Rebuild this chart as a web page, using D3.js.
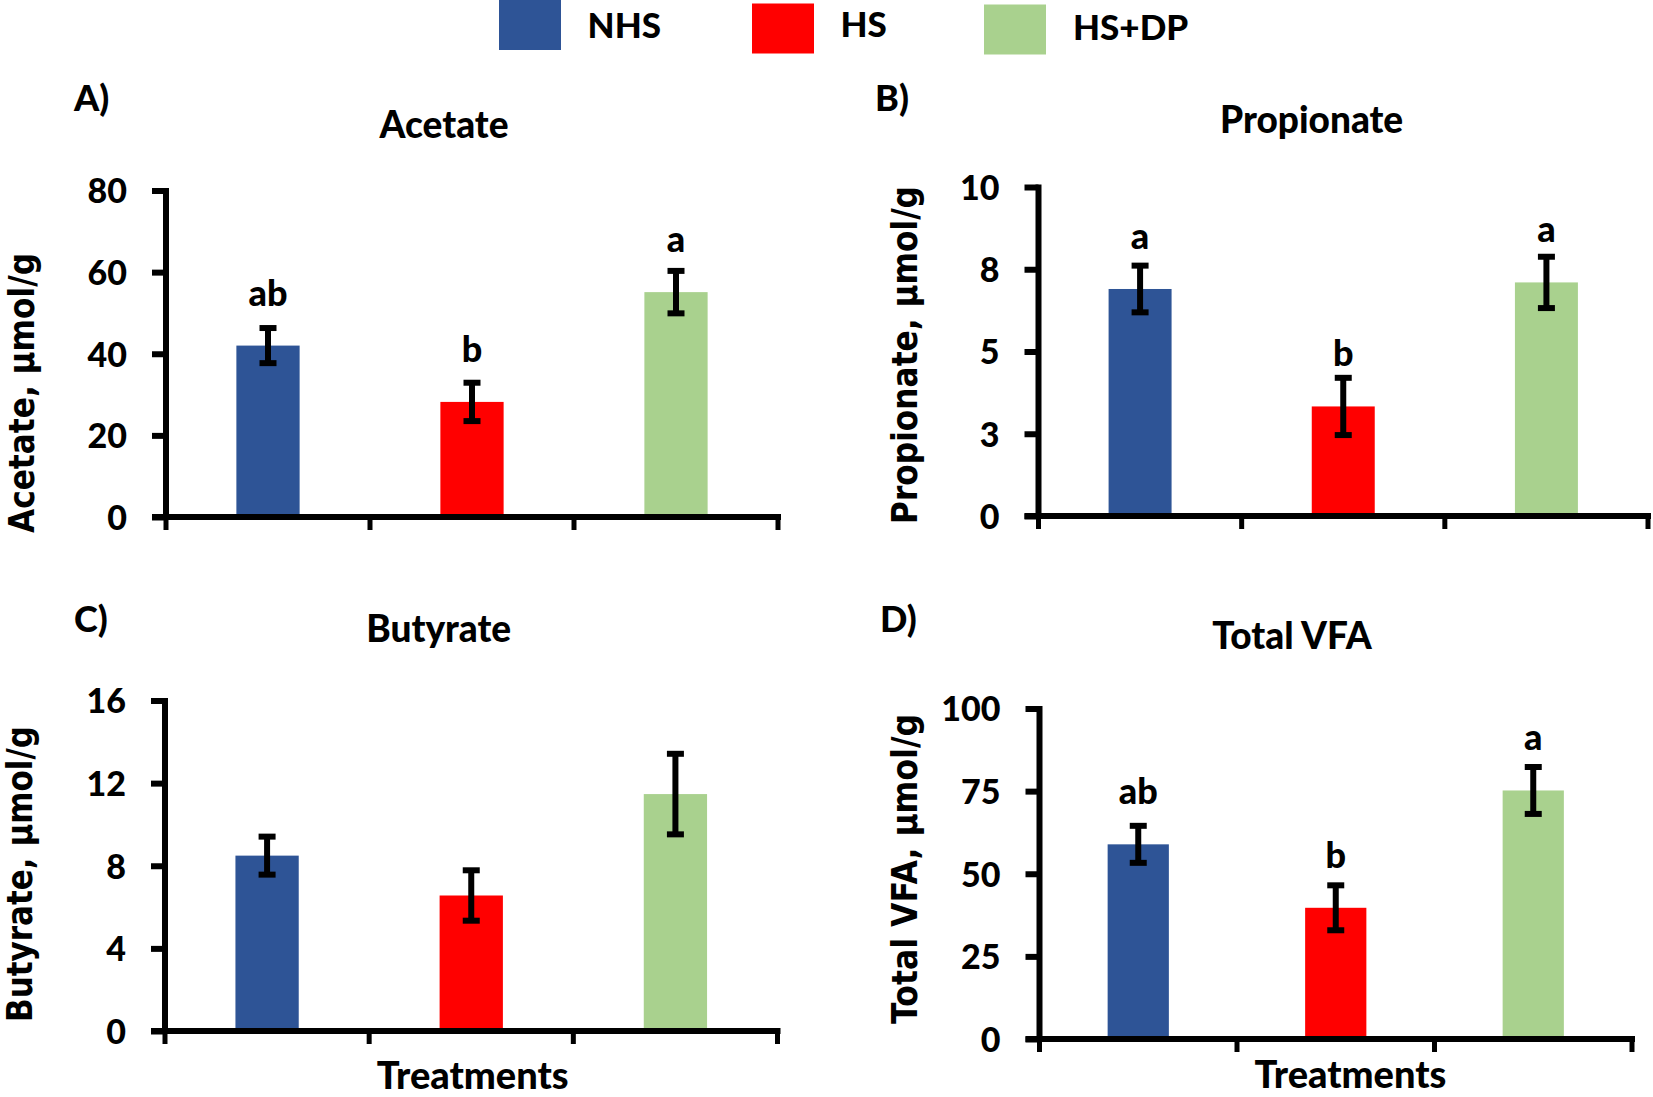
<!DOCTYPE html>
<html>
<head>
<meta charset="utf-8">
<script src="https://cdn.jsdelivr.net/npm/d3@7"></script>
<style>
  html, body { margin: 0; padding: 0; background: #fff; }
  svg { display: block; }
  .lato { font-family: Lato, "Open Sans", sans-serif; font-weight: 900; }
  .dv { font-family: "DejaVu Sans", Verdana, sans-serif; font-weight: 700; }
</style>
</head>
<body>
<svg id="chart" width="1653" height="1097"></svg>
<script>
// ---------- DATA ----------
const categories = ["NHS", "HS", "HS+DP"];
const colors = ["#2E5496", "#FF0000", "#A9D18E"];

const acetateMean = [42.0, 28.2, 55.1];
const acetateSE = [4.3, 4.7, 5.2];
const acetateLetters = ["ab", "b", "a"];
const acetateTicks = [0, 20, 40, 60, 80];
const acetateTickLabels = ["0", "20", "40", "60", "80"];

const propionateMean = [6.9, 3.33, 7.1];
const propionateSE = [0.71, 0.87, 0.78];
const propionateLetters = ["a", "b", "a"];
const propionateTicks = [0, 2.5, 5, 7.5, 10];
const propionateTickLabels = ["0", "3", "5", "8", "10"];

const butyrateMean = [8.49, 6.56, 11.47];
const butyrateSE = [0.92, 1.22, 1.95];
const butyrateLetters = ["", "", ""];
const butyrateTicks = [0, 4, 8, 12, 16];
const butyrateTickLabels = ["0", "4", "8", "12", "16"];

const totalMean = [58.9, 39.7, 75.2];
const totalSE = [5.6, 6.8, 7.1];
const totalLetters = ["ab", "b", "a"];
const totalTicks = [0, 25, 50, 75, 100];
const totalTickLabels = ["0", "25", "50", "75", "100"];

// ---------- LAYOUT ----------
const panels = [
  { tag: "A)", title: "Acetate", ylab: "Acetate, \u00b5mol/g", mean: acetateMean, se: acetateSE,
    letters: acetateLetters, ticks: acetateTicks, tickLabels: acetateTickLabels,
    x0: 166, x1: 778, yTop: 190.5, yBot: 517,
    tagX: 74, tagY: 111, titleX: 444, titleY: 137.5,
    ylabX: 34.4, ylabY: 393, ylabLen: 280, xlab: null },
  { tag: "B)", title: "Propionate", ylab: "Propionate, \u00b5mol/g", mean: propionateMean, se: propionateSE,
    letters: propionateLetters, ticks: propionateTicks, tickLabels: propionateTickLabels,
    x0: 1038.5, x1: 1648, yTop: 187, yBot: 516,
    tagX: 875, tagY: 111, titleX: 1311.6, titleY: 133.3,
    ylabX: 916.6, ylabY: 355, ylabLen: 338, xlab: null },
  { tag: "C)", title: "Butyrate", ylab: "Butyrate, \u00b5mol/g", mean: butyrateMean, se: butyrateSE,
    letters: butyrateLetters, ticks: butyrateTicks, tickLabels: butyrateTickLabels,
    x0: 165, x1: 777.5, yTop: 700.5, yBot: 1031,
    tagX: 74, tagY: 632, titleX: 438.7, titleY: 642.4,
    ylabX: 32, ylabY: 874, ylabLen: 296, xlab: { x: 472.7, y: 1089 } },
  { tag: "D)", title: "Total VFA", ylab: "Total VFA, \u00b5mol/g", mean: totalMean, se: totalSE,
    letters: totalLetters, ticks: totalTicks, tickLabels: totalTickLabels,
    x0: 1039.5, x1: 1632, yTop: 708.5, yBot: 1039,
    tagX: 880, tagY: 632, titleX: 1292, titleY: 649.4,
    ylabX: 916.6, ylabY: 869, ylabLen: 310, xlab: { x: 1350.5, y: 1088 } }
];

const svg = d3.select("#chart");

// ---------- LEGEND ----------
const legendLayout = [
  { sx: 499, sy: 0, tx: 587.6, ty: 38 },
  { sx: 752, sy: 3.5, tx: 840.5, ty: 36.5 },
  { sx: 984, sy: 4.5, tx: 1073, ty: 40 }
];
const legend = svg.append("g");
categories.forEach((c, i) => {
  const L = legendLayout[i];
  legend.append("rect").attr("x", L.sx).attr("y", L.sy).attr("width", 62).attr("height", 50)
    .attr("fill", colors[i]);
  legend.append("text").attr("class", "lato").attr("x", L.tx).attr("y", L.ty)
    .attr("font-size", 35).attr("fill", "#000").text(c);
});

// ---------- PANELS ----------
panels.forEach(p => {
  const g = svg.append("g");
  const maxV = p.ticks[p.ticks.length - 1];
  const x = d3.scaleBand().domain(categories).range([p.x0, p.x1])
    .paddingInner(0.69).paddingOuter(0.345);
  const y = d3.scaleLinear().domain([0, maxV]).range([p.yBot, p.yTop]);

  // bars
  g.selectAll("rect.bar").data(categories).join("rect")
    .attr("class", "bar")
    .attr("x", d => x(d))
    .attr("width", x.bandwidth())
    .attr("y", (d, i) => y(p.mean[i]))
    .attr("height", (d, i) => y(0) - y(p.mean[i]))
    .attr("fill", (d, i) => colors[i]);

  // error bars
  const cap = 17;
  categories.forEach((c, i) => {
    const cx = x(c) + x.bandwidth() / 2;
    const hi = y(p.mean[i] + p.se[i]);
    const lo = y(p.mean[i] - p.se[i]);
    g.append("line").attr("x1", cx).attr("x2", cx).attr("y1", hi).attr("y2", lo)
      .attr("stroke", "#000").attr("stroke-width", 6);
    g.append("line").attr("x1", cx - cap / 2).attr("x2", cx + cap / 2).attr("y1", hi).attr("y2", hi)
      .attr("stroke", "#000").attr("stroke-width", 6);
    g.append("line").attr("x1", cx - cap / 2).attr("x2", cx + cap / 2).attr("y1", lo).attr("y2", lo)
      .attr("stroke", "#000").attr("stroke-width", 6);
    if (p.letters[i]) {
      const ly = Math.min(y(p.mean[i]) - 40, hi - 10);
      g.append("text").attr("class", "lato").attr("x", cx).attr("y", ly)
        .attr("text-anchor", "middle").attr("font-size", 36).text(p.letters[i]);
    }
  });

  // y axis
  const yAxis = d3.axisLeft(y).tickValues(p.ticks)
    .tickFormat((d, i) => p.tickLabels[i]).tickSize(14).tickPadding(25).tickSizeOuter(0);
  const ya = g.append("g").attr("transform", `translate(${p.x0},0)`).call(yAxis);
  ya.select(".domain").attr("stroke", "#000").attr("stroke-width", 6)
    .attr("d", `M0,${p.yTop - 2.5}V${p.yBot + 3}`);
  ya.selectAll(".tick line").attr("stroke", "#000").attr("stroke-width", 6);
  ya.selectAll(".tick text").attr("class", "lato").attr("font-size", 34).attr("fill", "#000")
    .attr("dy", "0.36em");

  // x axis line and boundary ticks
  const step = x.step();
  g.append("line").attr("x1", p.x0 - 14).attr("x2", p.x1 + 3).attr("y1", p.yBot).attr("y2", p.yBot)
    .attr("stroke", "#000").attr("stroke-width", 6);
  for (let k = 0; k <= categories.length; k++) {
    const bx = p.x0 + k * step;
    g.append("line").attr("x1", bx).attr("x2", bx).attr("y1", p.yBot).attr("y2", p.yBot + 13)
      .attr("stroke", "#000").attr("stroke-width", 5);
  }

  // titles
  g.append("text").attr("class", "lato").attr("x", p.tagX).attr("y", p.tagY)
    .attr("font-size", 36).text(p.tag);
  g.append("text").attr("class", "lato").attr("x", p.titleX).attr("y", p.titleY)
    .attr("text-anchor", "middle").attr("font-size", 37).text(p.title);
  g.append("text").attr("class", "dv")
    .attr("transform", `translate(${p.ylabX},${p.ylabY}) rotate(-90)`)
    .attr("text-anchor", "middle").attr("font-size", 35)
    .attr("textLength", p.ylabLen).attr("lengthAdjust", "spacingAndGlyphs")
    .text(p.ylab);
  if (p.xlab) {
    g.append("text").attr("class", "lato").attr("x", p.xlab.x).attr("y", p.xlab.y)
      .attr("text-anchor", "middle").attr("font-size", 38).text("Treatments");
  }
});
</script>
</body>
</html>
